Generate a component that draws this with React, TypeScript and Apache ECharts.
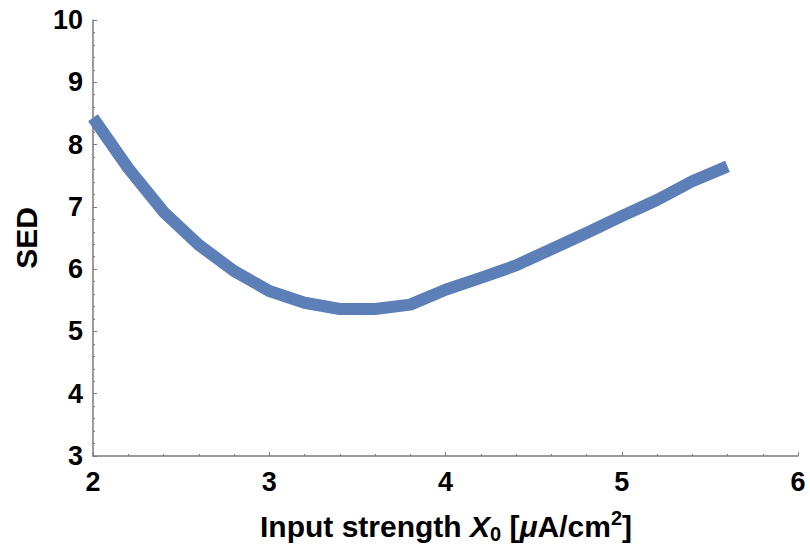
import React, { useEffect, useRef } from "react";
import * as echarts from "echarts";

// Input strength X0 (μA/cm²) and the resulting SED
const inputStrength = [2.0, 2.2, 2.4, 2.6, 2.8, 3.0, 3.2, 3.4, 3.6, 3.8, 4.0, 4.2, 4.4, 4.6, 4.8, 5.0, 5.2, 5.4, 5.6];
const sedValues = [8.43, 7.62, 6.92, 6.39, 5.97, 5.65, 5.46, 5.36, 5.36, 5.43, 5.67, 5.86, 6.06, 6.32, 6.58, 6.85, 7.11, 7.41, 7.65];

const FONT = "'Liberation Sans', Arial, sans-serif";
const AXIS_GRAY = "#7a7a7a";
const LINE_BLUE = "#5b7fb6";
const TITLE_SIZE = 30;

export default function App() {
  const ref = useRef<HTMLDivElement>(null);

  useEffect(() => {
    if (!ref.current) return;
    const chart = echarts.init(ref.current, undefined, { renderer: "svg" });
    const labelStyle = { color: "#000", fontFamily: FONT, fontWeight: "bold" as const, fontSize: 27 };
    const axisCommon = {
      axisLine: { show: true, lineStyle: { color: AXIS_GRAY, width: 1.5 } },
      axisTick: { show: true, inside: true, length: 4, lineStyle: { color: AXIS_GRAY, width: 1 } },
      minorTick: { show: true, splitNumber: 5, length: 2, lineStyle: { color: AXIS_GRAY, width: 1 } },
      splitLine: { show: false },
    };
    const base = { fontFamily: FONT, fontWeight: "bold", fill: "#000", lineHeight: 36 };
    chart.setOption({
      animation: false,
      backgroundColor: "#ffffff",
      grid: { left: 93, right: 12, top: 20, bottom: 90, containLabel: false },
      xAxis: {
        type: "value",
        min: 2,
        max: 6,
        interval: 1,
        ...axisCommon,
        axisLabel: { ...labelStyle, margin: 12 },
      },
      yAxis: {
        type: "value",
        min: 3,
        max: 10,
        interval: 1,
        ...axisCommon,
        axisLabel: { ...labelStyle, margin: 10 },
      },
      graphic: [
        {
          type: "text",
          x: 26,
          y: 238,
          rotation: Math.PI / 2,
          style: {
            text: "SED",
            fill: "#000",
            font: `bold ${TITLE_SIZE}px ${FONT}`,
            align: "center",
            verticalAlign: "middle",
          },
        },
        {
          type: "text",
          x: 446,
          y: 526,
          style: {
            text: "{b|Input strength }{i|X}{sub|0}{b| [}{i|μ}{b|A/cm}{sup|2}{b|]}",
            align: "center",
            verticalAlign: "middle",
            rich: {
              b: { ...base, fontSize: TITLE_SIZE },
              i: { ...base, fontStyle: "italic", fontSize: TITLE_SIZE },
              sub: { ...base, fontSize: 20, verticalAlign: "bottom", padding: [11, 0, 0, 0] },
              sup: { ...base, fontSize: 20, verticalAlign: "top", padding: [0, 0, 13, 0] },
            },
          },
        },
      ],
      series: [
        {
          type: "line",
          data: inputStrength.map((x, i) => [x, sedValues[i]]),
          showSymbol: false,
          symbol: "none",
          lineStyle: { color: LINE_BLUE, width: 12, cap: "butt", join: "round" },
        },
      ],
    });
    return () => chart.dispose();
  }, []);

  return <div ref={ref} style={{ position: "absolute", left: 0, top: 0, width: 810, height: 546 }} />;
}
